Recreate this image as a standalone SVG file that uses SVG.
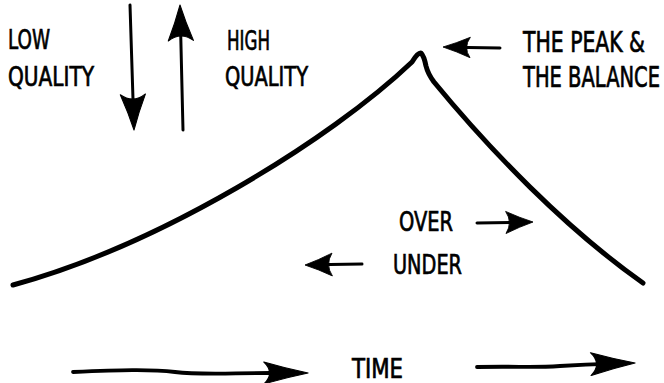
<svg xmlns="http://www.w3.org/2000/svg" width="664" height="383" viewBox="0 0 664 383">
<style>
  .t { font-family: "Liberation Sans Narrow", "DejaVu Sans Condensed", "Liberation Sans", sans-serif; font-size: 27px; fill: #000; stroke: #000; stroke-width: 0.7; }
  .big { font-size: 29px; }
  .ln { fill: none; stroke: #000; stroke-linecap: round; stroke-linejoin: round; }
  .a { stroke-width: 3; }
  .b { stroke-width: 3.8; }
  .curve { stroke-width: 5; }
  .head { fill: #000; stroke: #000; stroke-width: 1; stroke-linejoin: round; }
</style>
<defs>
  <path id="head" d="M0,0 Q-17,-5 -34,-12 Q-25,0 -34,12 Q-17,5 0,0 Z"/>
</defs>

<g id="connectors">
  <path id="curve" class="ln curve" d="M13,285 C160,245 330,140 412,62 Q418,52 421,53 Q424,56 426,66 Q428,74 434,82 C490,150 565,228 643,283"/>
  <g id="arrow-low">
    <path class="ln a" d="M130,5 L133.6,118"/>
    <use href="#head" class="head" transform="translate(134,130) rotate(88.2) scale(1.05)"/>
  </g>
  <g id="arrow-high">
    <path class="ln a" d="M183,130 L180.3,17"/>
    <use href="#head" class="head" transform="translate(180,5) rotate(-91.4) scale(1.05)"/>
  </g>
  <g id="arrow-peak">
    <path class="ln a" d="M500,48 L452,47.2"/>
    <use href="#head" class="head" transform="translate(443,47) rotate(181) scale(0.8,0.85)"/>
  </g>
  <g id="arrow-over">
    <path class="ln a" d="M477,223 L524,222.2"/>
    <use href="#head" class="head" transform="translate(533,222) rotate(-1) scale(0.8,0.92)"/>
  </g>
  <g id="arrow-under">
    <path class="ln a" d="M362,264 L314,264.8"/>
    <use href="#head" class="head" transform="translate(305,265) rotate(179) scale(0.8,0.95)"/>
  </g>
  <g id="arrow-time-left">
    <path class="ln b" d="M73,372 C120,370 150,369 175,372 S230,373 270,373 L296,373"/>
    <use href="#head" class="head" transform="translate(308,373) rotate(0) scale(1.3,0.92)"/>
  </g>
  <g id="arrow-time-right">
    <path class="ln b" d="M477,367 C520,366 530,368 560,366 S600,364 623,363.4"/>
    <use href="#head" class="head" transform="translate(635,363) rotate(-1.5) scale(1.3,0.95)"/>
  </g>
</g>

<g id="low-quality">
  <text class="t" x="8" y="49" textLength="42" lengthAdjust="spacingAndGlyphs">LOW</text>
  <text class="t" x="8" y="86" textLength="86" lengthAdjust="spacingAndGlyphs">QUALITY</text>
</g>
<g id="high-quality">
  <text class="t" x="227" y="50" textLength="43" lengthAdjust="spacingAndGlyphs">HIGH</text>
  <text class="t" x="225" y="86" textLength="83" lengthAdjust="spacingAndGlyphs">QUALITY</text>
</g>
<g id="peak">
  <text class="t big" transform="translate(523,52) scale(0.75,1)" x="0" y="0" textLength="162.7" lengthAdjust="spacingAndGlyphs">THE PEAK &amp;</text>
  <text class="t big" transform="translate(523,87) scale(0.75,1)" x="0" y="0" textLength="182.7" lengthAdjust="spacingAndGlyphs">THE BALANCE</text>
</g>
<g id="over">
  <text class="t" x="399" y="231" textLength="54" lengthAdjust="spacingAndGlyphs">OVER</text>
</g>
<g id="under">
  <text class="t" x="393" y="274" textLength="69" lengthAdjust="spacingAndGlyphs">UNDER</text>
</g>
<g id="time">
  <text class="t" x="352" y="378" textLength="51" lengthAdjust="spacingAndGlyphs">TIME</text>
</g>
</svg>
